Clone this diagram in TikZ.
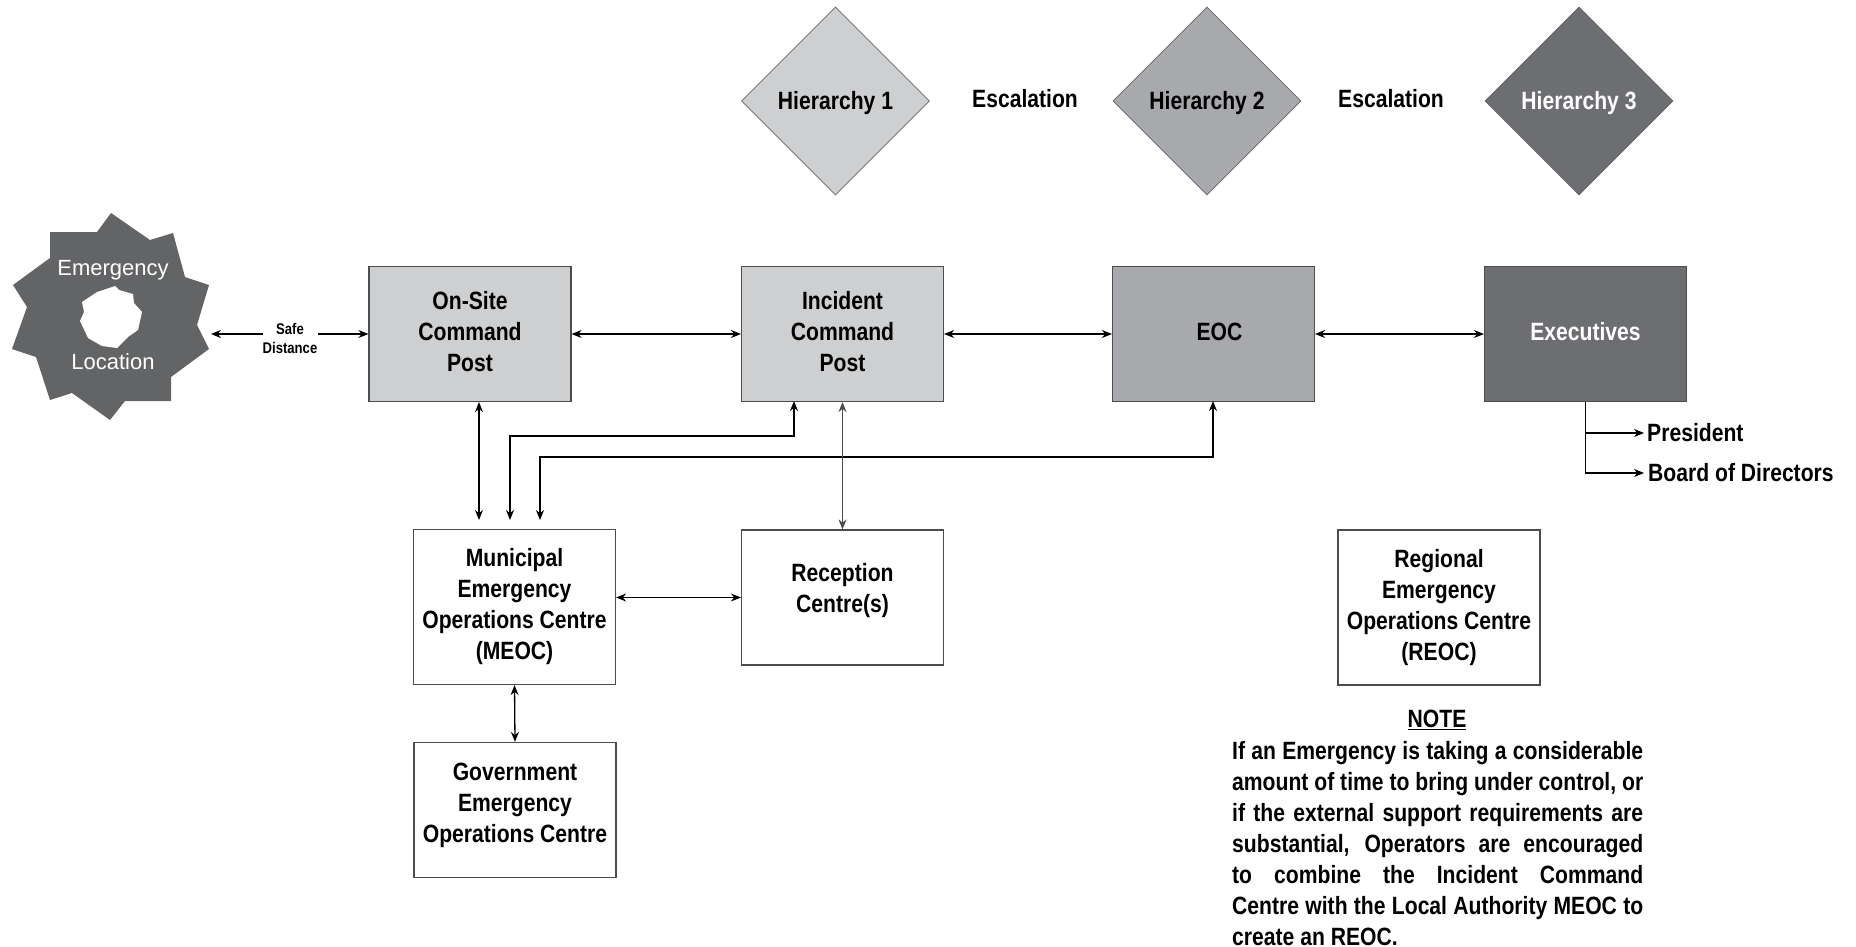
\documentclass[tikz,border=0pt]{standalone}
\usepackage{fontspec}
\usetikzlibrary{shapes.geometric,arrows.meta}
\setmainfont[FakeStretch=0.845]{Liberation Sans}
\newfontfamily\plainfont{Liberation Sans}
\definecolor{lightgrey}{HTML}{CDCFD1}
\definecolor{midgrey}{HTML}{A7A9AC}
\definecolor{darkgrey}{HTML}{6D6E71}
\definecolor{stargrey}{HTML}{636466}
\begin{document}
\begin{tikzpicture}[x=1pt,y=-1pt,>={Stealth[length=10pt,width=8pt]},
                    txt/.style={font=\fontsize{25}{31}\selectfont\bfseries,align=center,inner sep=0pt},
                    box/.style={txt,draw=black!70,line width=1.2pt,minimum width=202pt,minimum height=135pt},
                    hier/.style={txt,diamond,aspect=1,minimum width=188pt,minimum height=188pt,draw=black!60,
                                 line width=.8pt,text height=18pt,text depth=0pt},
                    conn/.style={<->,line width=1.3pt}]
    \useasboundingbox (0,0) rectangle (1856,947);
    \fill[stargrey] (111,213) -- (150,240) -- (173,233) -- (185,277) -- (209,285) -- (197,325)
        -- (209,349) -- (171,377) -- (171,401) -- (125,401) -- (110,420) -- (72,393) -- (50,400)
        -- (36,357) -- (12,349) -- (27,307) -- (13,285) -- (50,258) -- (50,232) -- (97,232) -- cycle;
    \fill[white] (115,286) -- (119,290) -- (133,294) -- (134,303) -- (142,312) -- (138,330) -- (128,337)
        -- (117,348) -- (102,346) -- (88,338) -- (80,321) -- (84,312) -- (82,302) -- (97,292) -- cycle;
    \node[white,inner sep=0pt,font=\plainfont\fontsize{22}{26}\selectfont] (emerg) at (113,270) {Emergency};
    \node[white,inner sep=0pt,font=\plainfont\fontsize{22}{26}\selectfont] (locat) at (113,362) {Location};
    \coordinate (starpt) at (211,334);

    \node[hier,fill=lightgrey] (hier1) at (835.5,101) {Hierarchy 1};
    \node[hier,fill=midgrey] (hier2) at (1207,101) {Hierarchy 2};
    \node[hier,fill=darkgrey,text=white] (hier3) at (1579,101) {Hierarchy 3};
    \node[txt] (esc1) at (1025,99) {Escalation};
    \node[txt] (esc2) at (1391,99) {Escalation};

    \node[box,fill=lightgrey,text depth=6pt] (onsite) at (470,334) {On-Site\\Command\\Post};
    \node[box,fill=lightgrey,text depth=6pt] (incident) at (842.5,334) {Incident\\Command\\Post};
    \node[box,fill=midgrey,text depth=5pt] (eoc) at (1213.5,334) {\hspace{12pt}EOC};
    \node[box,fill=darkgrey,text=white,text depth=5pt] (exec) at (1585.5,334) {Executives};
    \node[box,minimum height=155pt] (meoc) at (514.5,607) {Municipal\\Emergency\\Operations Centre\\(MEOC)};
    \node[box,text depth=20pt] (recept) at (842.5,597.5) {Reception\\Centre(s)};
    \node[box,text depth=15pt] (govt) at (515,810) {Government\\Emergency\\Operations Centre};
    \node[box,minimum height=155pt] (reoc) at (1439,607.5) {Regional\\Emergency\\Operations Centre\\(REOC)};
    \node[txt,anchor=west] (pres) at (1647,433) {President};
    \node[txt,anchor=west] (board) at (1648,473) {Board of Directors};

    \node[inner sep=0pt,font=\bfseries\fontsize{15.5}{19}\selectfont,align=center] (safe) at (290,338) {Safe\\Distance};
    \draw[->,line width=1.3pt] (safe.west |- starpt) -- (starpt);
    \draw[->,line width=1.3pt] (safe.east |- starpt) -- (onsite.west |- starpt);
    \draw[conn] (onsite) -- (incident);
    \draw[conn] (incident) -- (eoc);
    \draw[conn] (eoc) -- (exec);

    \coordinate (meoca) at (479,520);
    \coordinate (meocb) at (510,520);
    \coordinate (meocc) at (540,520);
    \coordinate (inca) at (794,401);
    \coordinate (eoca) at (1213,401);
    \draw[conn] (onsite.south -| meoca) -- (meoca);
    \draw[conn,line width=1.6pt] (meocb) -- ++(0,-84) -| (inca);
    \draw[conn] (meocc) -- ++(0,-63) -| (eoca);
    \draw[conn,black!70] (incident.south) -- (recept.north);
    \draw[conn] (meoc.east |- recept) -- (recept);
    \draw[conn] (meoc.south) -- (govt.north);

    \draw[->,line width=1.3pt,shorten >=3pt] (exec.south) |- (pres.west);
    \draw[->,line width=1.3pt,shorten >=4pt] (exec.south) |- (board.west);

    \node[txt] (notehead) at (1437,720) {\underline{NOTE}};
    \node[inner sep=0pt,anchor=north west,text width=411pt,align=justify,font=\fontsize{25}{31}\selectfont\bfseries] (notetext) at (1232,741)
        {If an Emergency is taking a considerable\linebreak
         amount of time to bring under control, or\linebreak
         if the external support requirements are\linebreak
         substantial, Operators are encouraged\linebreak
         to combine the Incident Command\linebreak
         Centre with the Local Authority MEOC to\linebreak
         create an REOC.};
\end{tikzpicture}
\end{document}
